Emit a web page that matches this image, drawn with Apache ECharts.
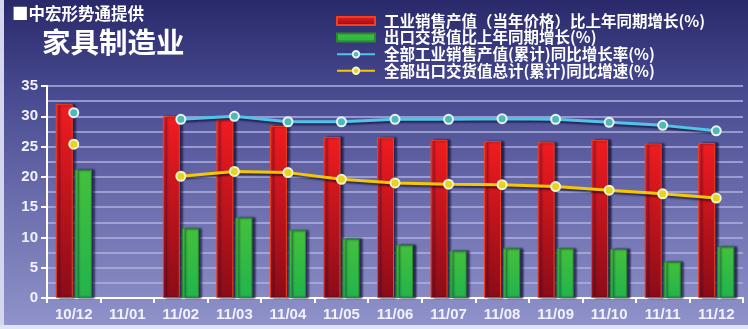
<!DOCTYPE html>
<html><head><meta charset="utf-8">
<script src="https://cdn.jsdelivr.net/npm/echarts@6/dist/echarts.min.js"></script>
<style>html,body{margin:0;padding:0;background:#fff}#c{width:748px;height:329px}</style>
</head><body><div id="c"></div>
<script>
var categories = ['10/12','11/01','11/02','11/03','11/04','11/05','11/06','11/07','11/08','11/09','11/10','11/11','11/12'];
var salesGrowth = [32.0, null, 30.0, 29.5, 28.4, 26.6, 26.5, 26.1, 25.9, 25.7, 26.1, 25.5, 25.6];
var exportGrowth = [21.2, null, 11.5, 13.3, 11.2, 9.8, 8.8, 7.8, 8.2, 8.2, 8.1, 6.0, 8.5];
var salesCumRate = [30.6, null, 29.5, 30.0, 29.1, 29.1, 29.5, 29.5, 29.6, 29.5, 29.0, 28.5, 27.6];
var exportCumRate = [25.4, null, 20.1, 20.9, 20.7, 19.6, 19.0, 18.8, 18.7, 18.4, 17.8, 17.2, 16.5];
var yTicks = [0, 5, 10, 15, 20, 25, 30, 35];
var seriesNames = ['工业销售产值（当年价格）比上年同期增长(%)','出口交货值比上年同期增长(%)','全部工业销售产值(累计)同比增长率(%)','全部出口交货值总计(累计)同比增速(%)'];

var chart = echarts.init(document.getElementById('c'), null, {renderer:'canvas'});
var cjk = '"Noto Sans CJK SC", "Noto Sans", sans-serif';
function grad(c1, c2){ return new echarts.graphic.LinearGradient(0,0,0,1,[{offset:0,color:c1},{offset:1,color:c2}]); }
chart.setOption({
  backgroundColor: new echarts.graphic.LinearGradient(0,0,0,1,[
    {offset:0,color:'#29296a'},{offset:0.3,color:'#4a4c92'},{offset:0.7,color:'#7476b4'},{offset:1,color:'#9193cb'}]),
  animation:false,
  graphic:[
    {type:'text', left:12, top:5, style:{text:'■中宏形势通提供', fill:'#ffffff', font:'bold 16.5px '+cjk}},
    {type:'text', left:42, top:28, style:{text:'家具制造业', fill:'#ffffff', font:'bold 28.5px '+cjk}},
    {type:'rect', left:0, top:0, shape:{width:4,height:329}, style:{fill:'#d4d6ee'}},
    {type:'rect', left:0, top:325, shape:{width:748,height:4}, style:{fill:'#e2e3f4'}}
  ],
  legend:{
    orient:'vertical', left:331, top:8, itemGap:0.6, itemWidth:38, itemHeight:8,
    textStyle:{color:'#ffffff', fontSize:15.5, lineHeight:16, fontWeight:'bold', fontFamily:cjk, padding:[0,0,0,4]},
    data:[
      {name:seriesNames[0], icon:'rect'},
      {name:seriesNames[1], icon:'rect'},
      {name:seriesNames[2]},
      {name:seriesNames[3]}
    ]
  },
  grid:{left:47, right:5, top:86, bottom:31, containLabel:false},
  xAxis:{
    type:'category', data:categories,
    axisLine:{lineStyle:{color:'#ffffff', width:2}},
    axisTick:{show:true, length:5, lineStyle:{color:'#ffffff', width:2}},
    axisLabel:{color:'#f2f2ff', fontSize:15, fontWeight:'bold', fontFamily:'"Liberation Sans", Arial, sans-serif', margin:9}
  },
  yAxis:{
    type:'value', min:yTicks[0], max:yTicks[yTicks.length-1], interval:5,
    axisLine:{show:true, lineStyle:{color:'#ffffff', width:2}},
    axisTick:{show:true, length:6, lineStyle:{color:'#ffffff', width:2}},
    axisLabel:{color:'#f2f2ff', fontSize:15, fontWeight:'bold', fontFamily:'"Liberation Sans", Arial, sans-serif', margin:9},
    splitLine:{show:true, lineStyle:{color:'#aeb1e0', width:1.5}},
    minorTick:{show:false, splitNumber:2},
    minorSplitLine:{show:true, lineStyle:{color:'#aeb1e0', width:1.5}}
  },
  series:[
    {name:seriesNames[0], type:'bar', data:salesGrowth, barWidth:17, barGap:'12%',
     itemStyle:{color:grad('#f01c20','#8a0c18'), borderColor:'#f04020', borderWidth:1,
       shadowColor:'rgba(15,15,50,0.75)', shadowOffsetX:3, shadowBlur:2}},
    {name:seriesNames[1], type:'bar', data:exportGrowth, barWidth:17,
     itemStyle:{color:grad('#44c03c','#22b44c'), borderColor:'#2a8a2a', borderWidth:1,
       shadowColor:'rgba(15,15,50,0.75)', shadowOffsetX:3, shadowBlur:2}},
    {name:seriesNames[2], type:'line', data:salesCumRate, connectNulls:false,
     symbol:'circle', symbolSize:9, z:5,
     lineStyle:{color:'#52c4ea', width:3, shadowColor:'rgba(0,0,30,0.6)', shadowOffsetY:2, shadowBlur:2},
     itemStyle:{color:'#4fb8b8', borderColor:'#e8f4f4', borderWidth:2}},
    {name:seriesNames[3], type:'line', data:exportCumRate, connectNulls:false,
     symbol:'circle', symbolSize:9, z:5,
     lineStyle:{color:'#f6c800', width:3, shadowColor:'rgba(0,0,30,0.6)', shadowOffsetY:2, shadowBlur:2},
     itemStyle:{color:'#e8d41c', borderColor:'#f4f4d0', borderWidth:2}}
  ]
});
</script></body></html>
